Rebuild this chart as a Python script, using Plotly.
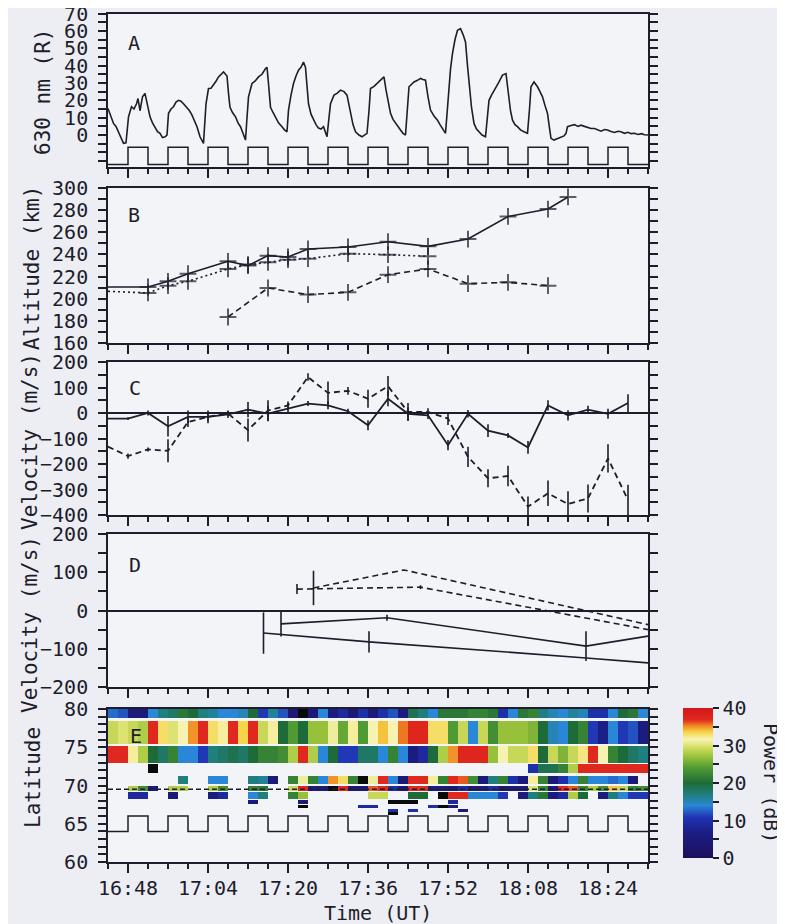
import numpy as np
import pandas as pd
import plotly.graph_objects as go

# ---------------- data (times in minutes after 16:00 UT) ----------------
# Panel A: 630 nm emission (R)
a_time = [44.0, 44.6, 45.1, 45.6, 46.1, 46.6, 47.1, 47.6, 48.1, 48.7, 49.2, 49.7, 50.0, 50.4, 50.9, 51.4, 51.8,
          52.1, 52.4, 52.9, 53.4, 53.9, 54.4, 54.9, 55.4, 55.8, 56.1, 56.6, 57.1, 57.6, 58.1, 58.6, 59.1, 59.8,
          60.3, 60.8, 61.3, 61.8, 62.4, 63.1, 63.6, 64.1, 64.6, 65.1, 65.6, 66.1, 66.6, 67.1, 67.5, 67.8, 68.1,
          68.4, 68.9, 69.5, 70.0, 70.5, 71.0, 71.5, 71.8, 72.1, 72.8, 73.4, 74.1, 74.8, 75.5, 75.8, 76.1, 76.5,
          77.0, 77.5, 78.1, 78.8, 79.3, 79.8, 80.1, 80.6, 81.1, 81.6, 82.1, 82.6, 83.1, 83.5, 83.8, 84.1, 84.6,
          85.1, 85.6, 86.1, 86.6, 87.1, 87.8, 88.2, 88.5, 89.2, 89.8, 90.5, 91.2, 91.8, 92.5, 93.0, 93.5, 94.2,
          94.8, 95.8, 96.2, 96.5, 97.2, 97.8, 98.6, 99.2, 99.6, 100.2, 100.5, 101.0, 101.5, 102.0, 102.5, 103.0,
          103.5, 104.2, 104.7, 105.2, 105.9, 106.5, 107.0, 107.5, 108.0, 108.5, 109.2, 109.9, 110.4, 110.9,
          111.5, 111.8, 112.2, 112.5, 112.9, 113.4, 113.9, 114.5, 115.0, 115.5, 115.9, 116.2, 116.7, 117.2,
          117.7, 118.2, 118.8, 119.5, 120.2, 120.7, 121.2, 121.7, 122.2, 122.9, 123.6, 124.2, 124.5, 124.9,
          125.4, 125.9, 126.5, 127.2, 127.9, 128.3, 128.6, 129.2, 129.9, 130.4, 130.9, 131.4, 131.9, 132.3,
          132.6, 133.2, 133.9, 134.6, 135.2, 135.6, 135.9, 136.6, 137.3, 138.0, 138.6, 139.3, 140.0, 140.6,
          141.3, 142.0, 142.6, 143.3, 143.9, 144.6, 145.3, 146.0, 146.6, 147.3, 148.0, 148.6, 149.3, 150.0,
          150.7, 151.3, 152.0]
a_emission = [15.3, 11, 6.7, 5, 1.9, -1, -4.8, -4.5, 10.5, 16.3, 15, 18, 21, 14, 22, 24, 18,
              14, 10.5, 7, 4.8, 2, 1, -1.5, -1, 0, 12.5, 15, 16.3, 19, 20, 19.5, 18, 16,
              14, 11.5, 8, 4.8, -1, -4.8, 18, 26.8, 27, 28.7, 31, 33.5, 35, 36.4, 35, 34, 24,
              16, 13, 10.5, 7, 4.8, 1, -2.9, 10, 22, 29.7, 31, 33.5, 35, 38.3, 39, 29.7, 16,
              13, 10.5, 7, 4.8, 3, 1.9, 14.4, 23, 29.7, 34, 37.4, 39, 42, 39, 28, 18, 12,
              8.6, 6, 4, 3.5, 4.8, -1, 10, 18, 23, 24, 25.9, 25, 23, 12.5, 6, 1.9, 0,
              -1, 1, 14, 26.8, 28, 29.7, 32, 33.5, 26, 18, 12.5, 9, 6.7, 4.5, 2.9, 1,
              0, 27.8, 29, 30.6, 31.5, 32.6, 32, 31.6, 22, 14.4, 11, 8.6, 6, 4,
              1, 12, 29.7, 38, 47, 55, 60.3, 61.3, 58, 53.6, 40, 29.7, 16, 6.7,
              3.5, 1.9, 0, -1, 20, 23, 25.9, 28, 30.6, 34.5, 35.4, 22, 14, 8.6,
              6, 4.8, 3, 1.9, 1, 15, 27.8, 30.6, 27.8, 25, 22, 17, 12.5, 4,
              -1.9, -2.9, -2, -1.5, -0.5, 1, 4.8, 5.5, 6, 5, 5.7, 5, 4.2, 3.8,
              3.8, 3, 2.2, 3.2, 2.9, 2, 1.5, 2.2, 1.9, 1, 1.6, 0.8, 1, 0.3,
              0.8, 0.2, 0]

# HF pump: start times of the 4-minute "on" periods
pump_on_start = [48, 56, 64, 72, 80, 88, 96, 104, 112, 120, 128, 136, 144]
pump_on_length = 4

# Panel B: altitudes (km)
b_solid_time = [44, 52, 56, 60, 68, 72, 76, 80, 84, 92, 100, 108, 116, 124, 132, 136]
b_solid_alt = [210.6, 210.6, 215.7, 222.6, 233.8, 229.9, 238.9, 237.7, 244.9, 246.7, 251.5, 247.3,
               253.9, 274.3, 281.0, 291.9]
b_dotted_time = [44, 52, 56, 60, 68, 72, 76, 80, 84, 92, 100, 108]
b_dotted_alt = [206.7, 205.2, 211.8, 215.7, 226.9, 230.8, 232.9, 235.3, 236.2, 240.7, 239.8, 238.3]
b_dashed_time = [68, 76, 84, 92, 100, 108, 116, 124, 132]
b_dashed_alt = [183.5, 209.7, 203.7, 205.8, 221.7, 226.9, 213.6, 214.8, 211.8]

# Panel C: velocities (m/s)
c_time = [44, 48, 52, 56, 60, 64, 68, 72, 76, 80, 84, 88, 92, 96, 100, 104, 108, 112, 116, 120,
          124, 128, 132, 136, 140, 144, 148]
c_solid = [-22, -22, 0, -52, -15, -15, -5, 13, -2, 18, 37, 30, 7, -48, 56, -3, -9, -126, -3, -69,
           -88, -135, 30, -9, 13, -3, 39]
c_solid_err = [0, 5, 10, 40, 25, 25, 15, 30, 30, 20, 10, 15, 10, 20, 30, 25, 15, 20, 15, 25,
               10, 25, 20, 20, 15, 20, 35]
c_dashed = [-132, -169, -143, -148, -35, -15, -2, -67, 10, 30, 141, 79, 87, 56, 105, 4, 4, -22, -172,
            -256, -247, -367, -315, -357, -335, -178, -341]
c_dashed_err = [0, 10, 8, 45, 20, 15, 10, 45, 40, 15, 15, 45, 15, 35, 40, 35, 15, 25, 40,
                35, 40, 40, 50, 50, 55, 55, 60]

# Panel D: velocities (m/s)
d_solid1_time = [75.1, 96.2, 139.6, 152.0]
d_solid1 = [-59, -82, -124, -137]
d_solid1_err = [54, 28, 0, 0]
d_solid2_time = [78.6, 99.8, 139.6, 152.0]
d_solid2 = [-35, -19, -93, -67]
d_solid2_err = [33, 8, 39, 0]
d_dashed1_time = [81.8, 106.5, 152.0]
d_dashed1 = [56, 61, -50]
d_dashed1_err = [13, 5, 0]
d_dashed2_time = [85.1, 103.2, 152.0]
d_dashed2 = [59, 106, -37]
d_dashed2_err = [45, 0, 0]

# Panel E: backscatter power (dB) in 2-minute columns; -1 marks black (no-data) cells
e_col_start = 44
e_col_width = 2
e_ncols = 54
e_lat_edges = [66.2, 66.5, 66.6, 66.9, 67.0, 67.5, 67.6, 68.1, 68.3, 69.1, 69.3, 70.0, 70.2, 71.3,
               71.6, 72.8, 72.9, 75.2, 75.4, 78.4, 78.8, 80.0]
e_row1 = [13, 12, 5, 5, 14, 17, 18, 21, 20, 17, 16, 14, 14, 15, 20, 11, 16, 12, 4, -1, 5, 14, 6, 9, 5,
          10, 5, 10, 12, 6, 19, 17, 14, 21, 21, 21, 22, 22, 21, 10, 14, 21, 22, 17, 15, 14, 16, 15, 10,
          10, 14, 20, 21, 14]
e_row2 = [29, 30, 29, 28, 37, 33, 30, 31.5, 35, 37, 33, 32, 37, 33.5, 37, 29, 32, 20, 24, 20, 27, 27, 31,
          25, 32, 24, 31.5, 34, 31.5, 35.5, 37.5, 37.5, 33, 33, 24, 29, 14, 29, 23, 27, 27, 27, 26, 20,
          15, 14, 20, 22, 11, 7, 14, 11, 12, 6]
e_row3 = [37, 37, 32, 28, 20, 18, 22, 14, 14, 11, 17, 18, 19, 18, 20, 22, 22, 23, 28, 37, 28, 14, 20,
          11, 11, 18, 18, 14, 22, 14, 6, 9, 20, 28, 35, 37.5, 37.5, 37.5, 27, 31.5, 29, 29, 33, 20, 29,
          26, 29, 32.5, 37, 31.5, 22, 20, 18, 17]
e_row4 = {4: -1, 42: 10, 43: 19, 44: 19, 45: 22, 46: 28, 47: 37, 48: 37, 49: 37, 50: 37, 51: 37,
          52: 37, 53: 37}
e_row5 = {7: 17, 10: 14, 11: 14, 14: 17, 15: 16, 16: 5, 18: 22, 19: 31, 20: 22, 21: 14, 22: 35,
          23: 33, 24: 22, 25: -1, 26: 31, 27: 37, 28: 14, 29: 5, 30: 37, 31: 37, 32: 32, 33: 22,
          34: 37, 35: 36, 36: 23, 37: 5, 38: 17, 39: 22, 40: 10, 41: 5, 42: 32, 43: 22, 44: 5,
          45: 10, 46: 14, 47: 22, 48: 14, 49: 14, 50: 13, 51: 14, 52: 5}
e_row6 = {2: 28, 3: 23, 4: 5, 6: 28, 7: 28, 10: 28, 11: 23, 14: 22, 15: 21, 18: 29, 19: 37, 20: 6,
          21: 6, 22: -1, 23: 37, 24: 5, 25: 5, 26: 36, 27: 37, 28: 10, 29: 5, 30: 37, 31: 37, 32: 6,
          33: 6, 34: 5, 35: 9, 36: 5, 37: 6, 38: 10, 39: 5, 40: 5, 41: 6, 42: 30, 43: 22, 44: 5,
          45: 37, 46: 36, 47: 22, 48: 28, 49: 23, 50: 34, 51: 29, 52: 22, 53: 23}
e_row7 = {2: 9, 3: 9, 6: 5, 10: 6, 11: 9, 14: 14, 15: 17, 18: 22, 19: 27, 26: 29, 27: 29, 30: 20,
          31: 20, 33: -1, 34: 37, 35: 37, 36: 14, 37: 14, 38: 14, 39: 11, 41: 6, 42: 17, 43: 21,
          44: 6, 45: 9, 46: 28, 47: 20, 49: 6, 50: 17, 51: 14, 52: 11, 53: 11}
e_row8 = {14: 5, 19: 5, 28: -1, 29: -1, 30: -1, 34: 9}
e_row9 = {19: -1, 25: 9, 26: 9, 32: 10, 33: -1, 34: 5}
e_row10 = {28: 10, 30: 10, 35: 6}
e_row11 = {28: -1}
e_beam_lat = 69.5

time_ticks_start = 48   # 16:48
time_ticks_major = 16   # minutes
time_ticks_minor = 4

# ---------------- helpers ----------------
BASE = pd.Timestamp("2000-01-01 16:00")


def tt(m):
    return BASE + pd.to_timedelta(np.asarray(m, dtype=float), unit="m")


INK = "#1d1d2b"
MONO = "DejaVu Sans Mono"
FS = 20
OFF = 8                      # page body margin
W, H = 785 - OFF, 924 - OFF  # figure size so it fits the window


def fx(px):
    return (px - OFF) / W


def fy(py):
    return 1 - (py - OFF) / H


def pump_wave(low, high):
    xs, ys = [44], [low]
    for s in pump_on_start:
        xs += [s, s + pump_on_length]
        ys += [high, low]
    xs.append(152)
    ys.append(low)
    return tt(xs), ys


fig = go.Figure()

# ---- A ----
fig.add_trace(go.Scatter(x=tt(a_time), y=a_emission, mode="lines",
                         line=dict(color=INK, width=1.6), xaxis="x", yaxis="y"))
px_, py_ = pump_wave(-17, -7)
fig.add_trace(go.Scatter(x=px_, y=py_, mode="lines", line=dict(color=INK, width=1.5, shape="hv"),
                         xaxis="x", yaxis="y"))

# ---- B ----
def msizes(n, first_hidden):
    return [0 if (first_hidden and i == 0) else 12 for i in range(n)]


for tx, vy, dash, hid in [(b_solid_time, b_solid_alt, "solid", True),
                          (b_dotted_time, b_dotted_alt, "2px,3px", True),
                          (b_dashed_time, b_dashed_alt, "6px,4px", False)]:
    fig.add_trace(go.Scatter(x=tt(tx), y=vy, mode="lines+markers",
                             line=dict(color=INK, width=1.6, dash=dash),
                             marker=dict(symbol="cross-thin", size=msizes(len(tx), hid),
                                         line=dict(color=INK, width=2)),
                             xaxis="x2", yaxis="y2"))

# ---- C ----
fig.add_trace(go.Scatter(x=tt(c_time), y=c_solid, mode="lines",
                         line=dict(color=INK, width=1.8),
                         error_y=dict(type="data", array=c_solid_err, width=0, thickness=1.6, color=INK),
                         xaxis="x3", yaxis="y3"))
fig.add_trace(go.Scatter(x=tt(c_time), y=c_dashed, mode="lines",
                         line=dict(color=INK, width=1.8, dash="6px,4px"),
                         error_y=dict(type="data", array=c_dashed_err, width=0, thickness=1.6, color=INK),
                         xaxis="x3", yaxis="y3"))

# ---- D ----
for tx, vy, er, dash in [(d_solid1_time, d_solid1, d_solid1_err, "solid"),
                         (d_solid2_time, d_solid2, d_solid2_err, "solid"),
                         (d_dashed1_time, d_dashed1, d_dashed1_err, "6px,4px"),
                         (d_dashed2_time, d_dashed2, d_dashed2_err, "6px,4px")]:
    fig.add_trace(go.Scatter(x=tt(tx), y=vy, mode="lines",
                             line=dict(color=INK, width=1.6, dash=dash),
                             error_y=dict(type="data", array=er, width=0, thickness=1.6, color=INK),
                             xaxis="x4", yaxis="y4"))

# ---- E ----
def full_row(r):
    if isinstance(r, dict):
        return [r.get(c, np.nan) for c in range(e_ncols)]
    return [float(v) for v in r]


rows_bottom_up = [e_row11, e_row10, e_row9, e_row8, e_row7, e_row6, e_row5, e_row4, e_row3, e_row2, e_row1]
z = []
for k, r in enumerate(rows_bottom_up):
    z.append(full_row(r))
    if k < len(rows_bottom_up) - 1:
        z.append([np.nan] * e_ncols)
z = np.array(z, dtype=float)
z_main = np.where(z >= 0, z, np.nan)
z_black = np.where(z < 0, 1.0, np.nan)
x_edges = tt(np.arange(e_ncols + 1) * e_col_width + e_col_start)

jet = [[0.0, "#1b0f5c"], [0.18, "#1c1f86"], [0.27, "#1f33b4"], [0.35, "#2a86d6"],
       [0.42, "#1f8080"], [0.5, "#1e6b3a"], [0.6, "#4f9a32"], [0.68, "#9cc43c"],
       [0.74, "#d5df62"], [0.79, "#f7f3b6"], [0.84, "#f5d444"], [0.88, "#f08a24"],
       [0.92, "#e12a1e"], [1.0, "#d3161b"]]

fig.add_trace(go.Heatmap(x=x_edges, y=e_lat_edges, z=z_main, zmin=0, zmax=40, colorscale=jet,
                         zsmooth=False, hoverongaps=False, xaxis="x5", yaxis="y5",
                         colorbar=dict(x=fx(683), xanchor="left", y=fy(783), yanchor="middle",
                                       len=150 / H, lenmode="fraction", thickness=30,
                                       thicknessmode="pixels", outlinewidth=0, xpad=0, ypad=0,
                                       ticks="outside", ticklen=6, tickwidth=1.5, tickcolor=INK,
                                       tickvals=[0, 5, 10, 15, 20, 25, 30, 35, 40],
                                       ticktext=["0", "", "10", "", "20", "", "30", "", "40"],
                                       tickfont=dict(family=MONO, size=FS, color=INK))))
fig.add_trace(go.Heatmap(x=x_edges, y=e_lat_edges, z=z_black, zmin=0, zmax=1,
                         colorscale=[[0, "#0a0a0a"], [1, "#0a0a0a"]], showscale=False,
                         zsmooth=False, hoverongaps=False, xaxis="x5", yaxis="y5"))
fig.add_trace(go.Scatter(x=tt([44, 152]), y=[e_beam_lat, e_beam_lat], mode="lines",
                         line=dict(color=INK, width=1.5, dash="5px,3px"), xaxis="x5", yaxis="y5"))
px_, py_ = pump_wave(64, 66)
fig.add_trace(go.Scatter(x=px_, y=py_, mode="lines", line=dict(color=INK, width=1.5, shape="hv"),
                         xaxis="x5", yaxis="y5"))

# ---------------- axes ----------------
xdom = [fx(108), fx(648)]
panels = {  # top px, bottom px, range, tickvals, minor step
    1: (13.5, 167, [-18.4, 70], list(range(0, 71, 10)), 5),
    2: (188, 343, [160, 300], list(range(160, 301, 20)), 10),
    3: (362, 515, [-400, 200], list(range(-400, 201, 100)), 50),
    4: (534, 687, [-200, 200], list(range(-200, 201, 100)), 50),
    5: (709, 862, [60, 80], list(range(60, 81, 5)), 1),
}
layout = {}
for i, (top, bot, rng, tv, mn) in panels.items():
    sx = "" if i == 1 else str(i)
    layout["xaxis" + sx] = dict(
        domain=xdom, anchor="y" + sx, type="date", range=[tt(44), tt(152)], automargin=False,
        tick0=tt(time_ticks_start), dtick=time_ticks_major * 60000, tickformat="%H:%M",
        ticks="outside", ticklen=9, tickwidth=1.5, tickcolor=INK, ticklabelstandoff=-2,
        minor=dict(dtick=time_ticks_minor * 60000, tick0=tt(time_ticks_start), ticks="outside",
                   ticklen=5, tickwidth=1.5, tickcolor=INK),
        showline=True, linecolor=INK, linewidth=1.6, mirror=True, showgrid=False, zeroline=False,
        showticklabels=(i == 5), tickfont=dict(family=MONO, size=FS, color=INK))
    layout["yaxis" + sx] = dict(
        domain=[fy(bot), fy(top)], anchor="x" + sx, range=rng, tickmode="array", tickvals=tv,
        automargin=False, ticklabelstandoff=6, ticklabeloverflow="allow",
        ticks="outside", ticklen=8, tickwidth=1.5, tickcolor=INK,
        minor=dict(dtick=mn, tick0=0, ticks="outside", ticklen=8, tickwidth=1.5, tickcolor=INK),
        showline=True, linecolor=INK, linewidth=1.6, mirror="ticks", showgrid=False,
        zeroline=(i in (3, 4)), zerolinecolor=INK, zerolinewidth=1.6,
        tickfont=dict(family=MONO, size=FS, color=INK))

ann = []
for txt, x, y in [("A", 134, 43), ("B", 134, 215), ("C", 135, 388), ("D", 135, 565), ("E", 136, 736)]:
    ann.append(dict(text=txt, x=fx(x), y=fy(y), xref="paper", yref="paper", showarrow=False,
                    xanchor="center", yanchor="middle",
                    font=dict(family=MONO, size=FS, color=INK)))
for txt, x, y in [("630 nm (R)", 43, 92), ("Altitude (km)", 32, 268), ("Velocity (m/s)", 30, 442),
                  ("Velocity (m/s)", 30, 625), ("Latitude", 33, 778)]:
    ann.append(dict(text=txt, x=fx(x), y=fy(y), xref="paper", yref="paper", showarrow=False,
                    xanchor="center", yanchor="middle",
                    textangle=-90, font=dict(family=MONO, size=21, color=INK)))
ann.append(dict(text="Time (UT)", x=fx(378), y=fy(913), xref="paper", yref="paper", showarrow=False,
                xanchor="center", yanchor="middle", font=dict(family=MONO, size=FS, color=INK)))
ann.append(dict(text="Power (dB)", x=fx(771), y=fy(783), xref="paper", yref="paper", showarrow=False,
                xanchor="center", yanchor="middle",
                textangle=90, font=dict(family=MONO, size=FS, color=INK)))

fig.update_layout(width=W, height=H, margin=dict(l=0, r=0, t=0, b=0, pad=0), showlegend=False,
                  paper_bgcolor="#eceef4", plot_bgcolor="#f3f4f8", annotations=ann, **layout)

fig.write_html("out.html")
